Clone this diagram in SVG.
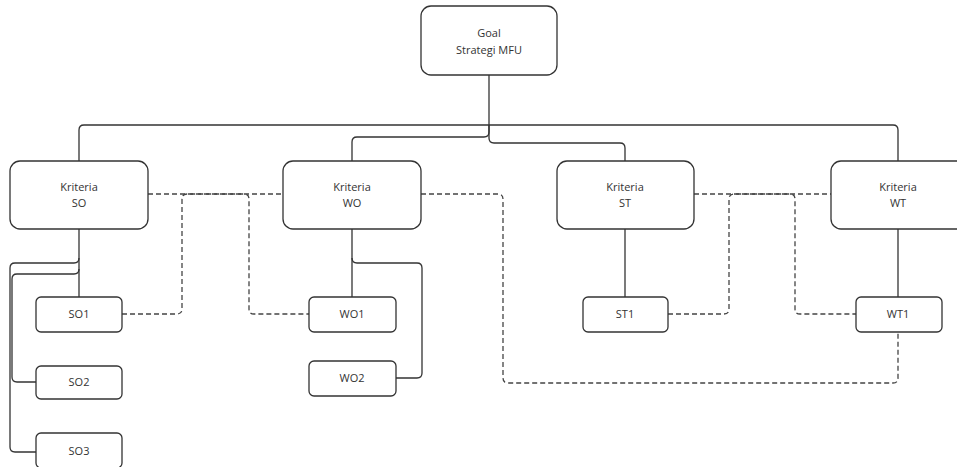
<svg xmlns="http://www.w3.org/2000/svg" width="957" height="467" viewBox="0 0 957 467">
<style>
.box{fill:#fff;stroke:#333;stroke-width:1.3}
.t{font-family:"Open Sans","Liberation Sans",sans-serif;font-size:11px;fill:#333;text-anchor:middle}
.c{fill:none;stroke:#333;stroke-width:1.3}
.d{fill:none;stroke:#444;stroke-width:1.3;stroke-dasharray:5 3}
</style>
<rect width="957" height="467" fill="#fff"/>
<g id="connectors">
<path class="c" d="M489,75 V125"/>
<path class="c" d="M489,125 H84 Q79,125 79,130 V161"/>
<path class="c" d="M489,125 H893 Q898,125 898,130 V161"/>
<path class="c" d="M489,125 V132 Q489,137 484,137 H357 Q352,137 352,142 V161"/>
<path class="c" d="M489,125 V138 Q489,143 494,143 H620 Q625,143 625,148 V161"/>
<path class="c" d="M79,229 V297"/>
<path class="c" d="M79,258 Q79,263 74,263 H15 Q10,263 10,268 V447 Q10,452 15,452 H36"/>
<path class="c" d="M79,269 Q79,274 74,274 H17 Q12,274 12,279 V377 Q12,382 17,382 H36"/>
<path class="c" d="M352,229 V297"/>
<path class="c" d="M352,258 Q352,263 357,263 H417 Q422,263 422,268 V373 Q422,378 417,378 H396"/>
<path class="c" d="M625,229 V297"/>
<path class="c" d="M898,229 V297"/>
<path class="d" d="M148,194 H283"/>
<path class="d" d="M122,314 H177 Q182,314 182,309 V199 Q182,194 187,194 H244 Q249,194 249,199 V309 Q249,314 254,314 H309"/>
<path class="d" d="M421,194 H498 Q503,194 503,199 V378 Q503,383 508,383 H893 Q898,383 898,378 V332"/>
<path class="d" d="M694,194 H831"/>
<path class="d" d="M668,314 H724 Q729,314 729,309 V199 Q729,194 734,194 H790 Q795,194 795,199 V309 Q795,314 800,314 H856"/>
</g>
<g id="goal"><rect class="box" x="421" y="6" width="136" height="69" rx="10"/><text class="t" x="489" y="37">Goal</text><text class="t" x="489" y="54">Strategi MFU</text></g>
<g id="kriteria-so"><rect class="box" x="10" y="161" width="138" height="68" rx="10"/><text class="t" x="79" y="191">Kriteria</text><text class="t" x="79" y="207">SO</text></g>
<g id="kriteria-wo"><rect class="box" x="283" y="161" width="138" height="68" rx="10"/><text class="t" x="352" y="191">Kriteria</text><text class="t" x="352" y="207">WO</text></g>
<g id="kriteria-st"><rect class="box" x="557" y="161" width="137" height="68" rx="10"/><text class="t" x="625" y="191">Kriteria</text><text class="t" x="625" y="207">ST</text></g>
<g id="kriteria-wt"><rect class="box" x="831" y="161" width="137" height="68" rx="10"/><text class="t" x="898" y="191">Kriteria</text><text class="t" x="898" y="207">WT</text></g>
<g id="so1"><rect class="box" x="36" y="297" width="86" height="35" rx="5"/><text class="t" x="79" y="318">SO1</text></g>
<g id="so2"><rect class="box" x="36" y="366" width="86" height="33" rx="5"/><text class="t" x="79" y="386">SO2</text></g>
<g id="so3"><rect class="box" x="36" y="433" width="86" height="35" rx="5"/><text class="t" x="79" y="455">SO3</text></g>
<g id="wo1"><rect class="box" x="309" y="297" width="87" height="35" rx="5"/><text class="t" x="352" y="318">WO1</text></g>
<g id="wo2"><rect class="box" x="309" y="361" width="87" height="35" rx="5"/><text class="t" x="352" y="382">WO2</text></g>
<g id="st1"><rect class="box" x="583" y="297" width="85" height="35" rx="5"/><text class="t" x="625" y="318">ST1</text></g>
<g id="wt1"><rect class="box" x="856" y="297" width="86" height="35" rx="5"/><text class="t" x="898" y="318">WT1</text></g>
</svg>
